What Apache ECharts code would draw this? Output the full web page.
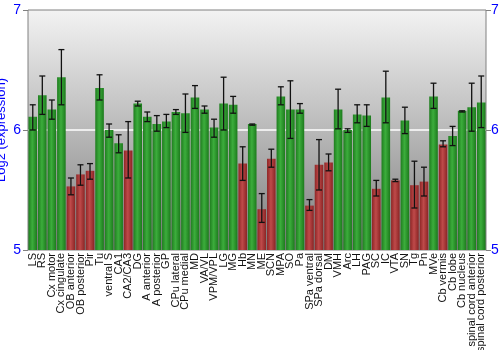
<!DOCTYPE html>
<html><head><meta charset="utf-8">
<script src="https://cdn.jsdelivr.net/npm/echarts@6/dist/echarts.min.js"></script>
<style>html,body{margin:0;padding:0;background:#fff}#c{width:500px;height:350px}</style>
</head><body><div id="c"></div>
<script>
const categories = ["LS","RS","Cx motor","Cx cingulate","OB anterior","OB posterior","Pir","Tu","ventral S","CA1","CA2/CA3","DG","A anterior","A posterior","GP","CPu lateral","CPu medial","MD","VA/VL","VPM/VPL","LG","MG","Hb","MN","ME","SCN","MPA","SO","Pa","SPa ventral","SPa dorsal","DM","VMH","Arc","LH","PAG","SC","IC","VTA","SN","Tg","Pn","MVe","Cb vermis","Cb lobe","Cb nucleus","spinal cord anterior","spinal cord posterior"];
const values = [6.11,6.29,6.17,6.44,5.53,5.63,5.66,6.35,6.00,5.89,5.83,6.22,6.11,6.05,6.07,6.15,6.14,6.27,6.17,6.02,6.22,6.21,5.72,6.05,5.34,5.76,6.28,6.17,6.17,5.37,5.71,5.73,6.17,6.00,6.13,6.12,5.51,6.27,5.58,6.08,5.54,5.57,6.28,5.88,5.95,6.16,6.19,6.23];
const errLow = [6.00,6.13,6.09,6.21,5.46,5.54,5.59,6.25,5.94,5.81,5.60,6.20,6.07,5.99,6.02,6.13,5.98,6.18,6.14,5.94,6.00,6.14,5.58,6.04,5.23,5.69,6.21,5.93,6.14,5.33,5.50,5.66,6.01,5.98,6.06,6.03,5.45,6.06,5.57,5.97,5.35,5.45,6.18,5.86,5.87,6.15,5.99,6.02];
const errHigh = [6.21,6.45,6.25,6.67,5.60,5.71,5.72,6.46,6.05,5.96,6.07,6.24,6.15,6.12,6.13,6.17,6.30,6.37,6.20,6.09,6.44,6.28,5.86,6.05,5.47,5.84,6.36,6.41,6.22,5.42,5.92,5.80,6.34,6.01,6.21,6.21,5.58,6.49,5.59,6.19,5.74,5.69,6.39,5.91,6.03,6.16,6.39,6.45];
const isRed = [0,0,0,0,1,1,1,0,0,0,1,0,0,0,0,0,0,0,0,0,0,0,1,0,1,1,0,0,0,1,1,1,0,0,0,0,1,0,1,0,1,1,0,1,0,0,0,0];
const yTicks = [5,6,7];

const green = {type:'linear',x:0,y:0,x2:1,y2:0,colorStops:[{offset:0,color:'#1f7d1f'},{offset:0.45,color:'#3cad3c'},{offset:1,color:'#1c7a1c'}]};
const red = {type:'linear',x:0,y:0,x2:1,y2:0,colorStops:[{offset:0,color:'#8e2626'},{offset:0.45,color:'#bf4a4a'},{offset:1,color:'#8a2424'}]};

const barData = values.map((v,i)=>({value:v,itemStyle:{color:isRed[i]?red:green}}));
const errData = values.map((v,i)=>[i,errLow[i],errHigh[i]]);

const chart = echarts.init(document.getElementById('c'),null,{renderer:'canvas'});
chart.setOption({
  animation:false,
  grid:{left:28,right:14,top:10,bottom:100,containLabel:false,outerBoundsMode:'none',show:true,borderColor:'#808080',borderWidth:1,
    backgroundColor:{type:'linear',x:0,y:0,x2:0,y2:1,colorStops:[{offset:0,color:'#f3f3f3'},{offset:0.5,color:'#b9b9b9'},{offset:1,color:'#7c7c7c'}]}},
  xAxis:{type:'category',data:categories,
    axisLine:{show:false},axisTick:{show:false},
    axisLabel:{interval:0,rotate:90,fontFamily:'Liberation Sans',fontSize:11,color:'#111',margin:3}},
  yAxis:[
    {type:'value',min:5,max:7,interval:1,position:'left',
      axisLine:{show:false},axisTick:{show:true,length:5,lineStyle:{color:'#808080'}},
      splitLine:{show:false},
      axisLabel:{fontFamily:'Liberation Sans',fontSize:14,color:'#0000ff',margin:7},
      name:'Log2 (expression)',nameLocation:'middle',nameGap:20,nameMoveOverlap:false,
      nameTextStyle:{fontFamily:'Liberation Sans',fontSize:13,color:'#0000ff'}},
    {type:'value',min:5,max:7,interval:1,position:'right',
      axisLine:{show:false},axisTick:{show:true,length:5,lineStyle:{color:'#808080'}},
      splitLine:{show:false},
      axisLabel:{fontFamily:'Liberation Sans',fontSize:14,color:'#0000ff',margin:5}}
  ],
  series:[
    {type:'bar',data:barData,barCategoryGap:'10%',z:3,
      markLine:{silent:true,symbol:'none',label:{show:false},lineStyle:{color:'#ffffff',width:1.5,type:'solid'},data:[{yAxis:6}],z:2}},
    {type:'custom',data:errData,z:5,
      renderItem:function(params,api){
        const x = api.coord([api.value(0),api.value(1)])[0];
        const lo = api.coord([api.value(0),api.value(1)])[1];
        const hi = api.coord([api.value(0),api.value(2)])[1];
        const w = 3;
        const st = {stroke:'#111',lineWidth:1.3};
        return {type:'group',children:[
          {type:'line',shape:{x1:x,y1:lo,x2:x,y2:hi},style:st},
          {type:'line',shape:{x1:x-w,y1:lo,x2:x+w,y2:lo},style:st},
          {type:'line',shape:{x1:x-w,y1:hi,x2:x+w,y2:hi},style:st}
        ]};
      }}
  ]
});
</script></body></html>
